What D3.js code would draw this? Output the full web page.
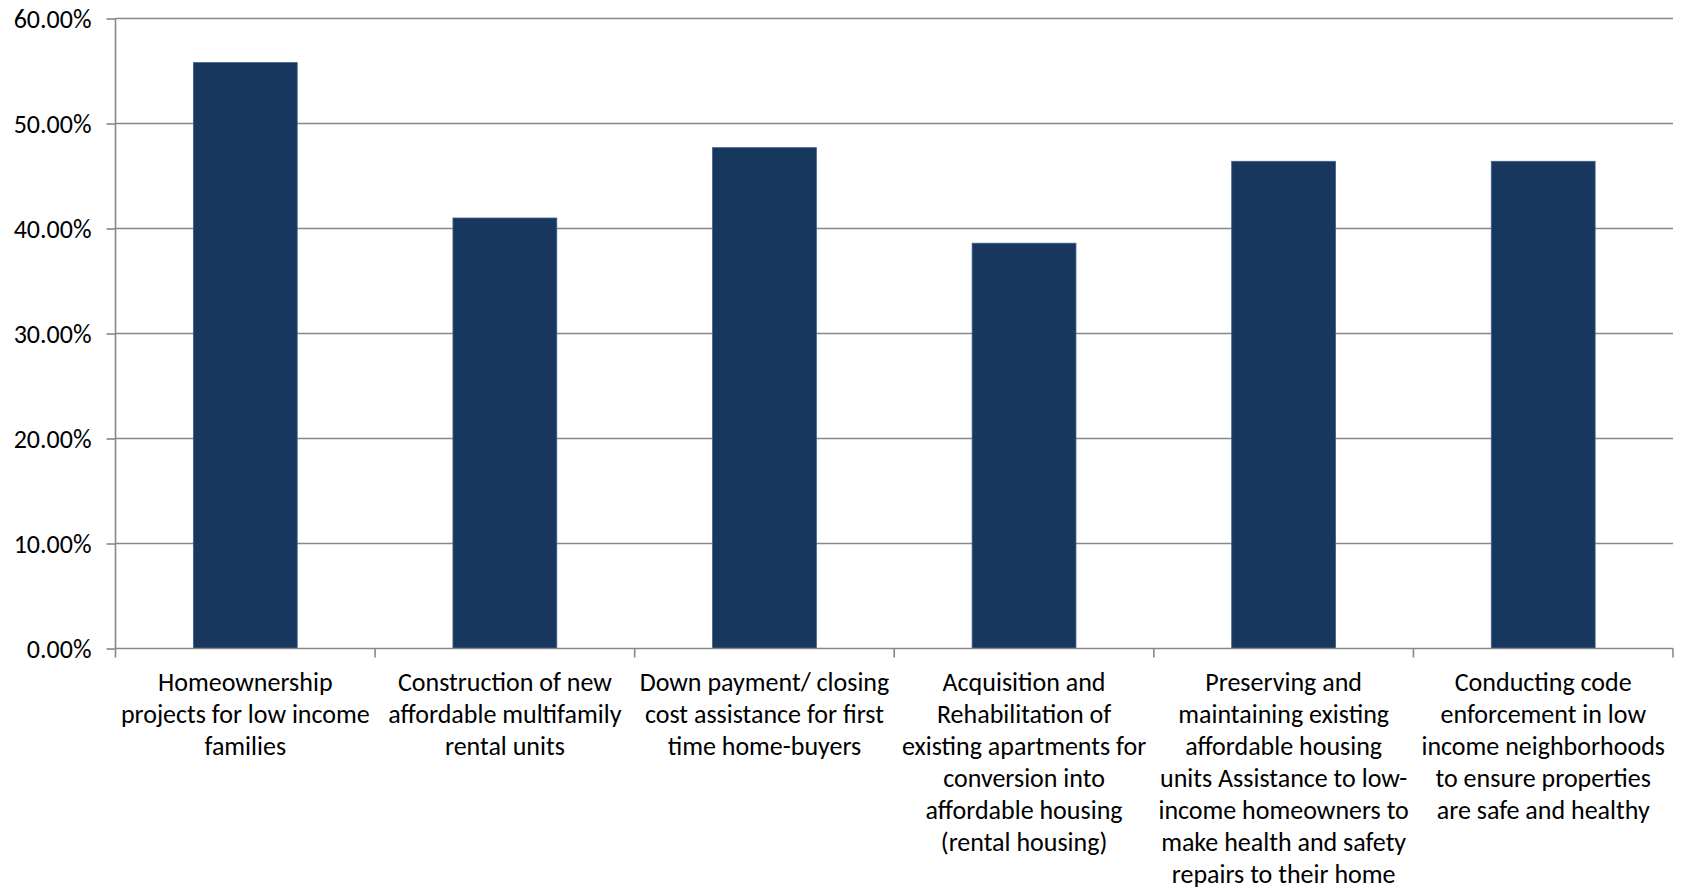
<!DOCTYPE html>
<html>
<head>
<meta charset="utf-8">
<script src="https://cdn.jsdelivr.net/npm/d3@7"></script>
<style>
  html, body { margin: 0; padding: 0; background: #fff; }
  svg { display: block; }
  text { font-family: Carlito, Calibri, Lato, "Open Sans", sans-serif; fill: #000; }
</style>
</head>
<body>
<svg id="chart" width="1684" height="892"></svg>
<script>
// Survey categories (line breaks follow the wrapped axis labels)
const categories = [
  "Homeownership\nprojects for low income\nfamilies",
  "Construction of new\naffordable multifamily\nrental units",
  "Down payment/ closing\ncost assistance for first\ntime home-buyers",
  "Acquisition and\nRehabilitation of\nexisting apartments for\nconversion into\naffordable housing\n(rental housing)",
  "Preserving and\nmaintaining existing\naffordable housing\nunits Assistance to low-\nincome homeowners to\nmake health and safety\nrepairs to their home",
  "Conducting code\nenforcement in low\nincome neighborhoods\nto ensure properties\nare safe and healthy"
];
// Share of responses per category
const values = [0.558, 0.410, 0.477, 0.386, 0.464, 0.464];
// Y-axis ticks
const yTicks = [0, 0.1, 0.2, 0.3, 0.4, 0.5, 0.6];

const svg = d3.select("#chart");
const margin = { left: 115.5, right: 11, top: 18.5, bottom: 243.5 };
const W = 1684, H = 892;
const innerW = W - margin.left - margin.right;
const innerH = H - margin.top - margin.bottom;

const x = d3.scaleBand().domain(d3.range(categories.length)).range([0, innerW]).padding(0);
const y = d3.scaleLinear().domain([0, 0.6]).range([innerH, 0]);

const g = svg.append("g").attr("transform", `translate(${margin.left},${margin.top})`);

const gridColor = "#888888";

// Horizontal gridlines
g.append("g").selectAll("line").data(yTicks.filter(d => d > 0)).join("line")
  .attr("x1", 0).attr("x2", innerW)
  .attr("y1", d => y(d)).attr("y2", d => y(d))
  .attr("stroke", gridColor).attr("stroke-width", 1.6);

// Bars
const barW = x.bandwidth() * 0.4;
g.append("g").selectAll("rect").data(values).join("rect")
  .attr("x", (d, i) => x(i) + (x.bandwidth() - barW) / 2)
  .attr("y", d => y(d))
  .attr("width", barW)
  .attr("height", d => innerH - y(d))
  .attr("fill", "#18375e")
  .attr("stroke", "#3f5f86")
  .attr("stroke-width", 0.8);

// Y axis
const yAxis = d3.axisLeft(y).tickValues(yTicks).tickFormat(d3.format(".2%")).tickSize(9).tickPadding(15);
const ya = g.append("g").call(yAxis);
ya.select(".domain").attr("stroke", gridColor).attr("stroke-width", 1.6).attr("d", `M0,${innerH}V0`);
ya.selectAll(".tick line").attr("stroke", gridColor).attr("stroke-width", 1.6);
ya.selectAll(".tick text").style("font-size", "26px").attr("fill", "#000").attr("dy", "0.34em");

// X axis: baseline with ticks on category boundaries
const xa = g.append("g").attr("transform", `translate(0,${innerH})`);
xa.append("line").attr("x1", 0).attr("x2", innerW).attr("y1", 0).attr("y2", 0)
  .attr("stroke", gridColor).attr("stroke-width", 1.6);
xa.selectAll("line.tk").data(d3.range(categories.length + 1)).join("line")
  .attr("class", "tk")
  .attr("x1", i => i * x.bandwidth()).attr("x2", i => i * x.bandwidth())
  .attr("y1", 0).attr("y2", 9)
  .attr("stroke", gridColor).attr("stroke-width", 1.6);

// Category labels
const lineH = 32.1;
const lbl = xa.selectAll("text.cat").data(categories).join("text")
  .attr("class", "cat")
  .attr("text-anchor", "middle")
  .attr("transform", (d, i) => `translate(${x(i) + x.bandwidth() / 2},42)`)
  .style("font-size", "26px");
lbl.each(function(d) {
  const t = d3.select(this);
  d.split("\n").forEach((line, k) => {
    t.append("tspan").attr("x", 0).attr("y", k * lineH).text(line);
  });
});
</script>
</body>
</html>
